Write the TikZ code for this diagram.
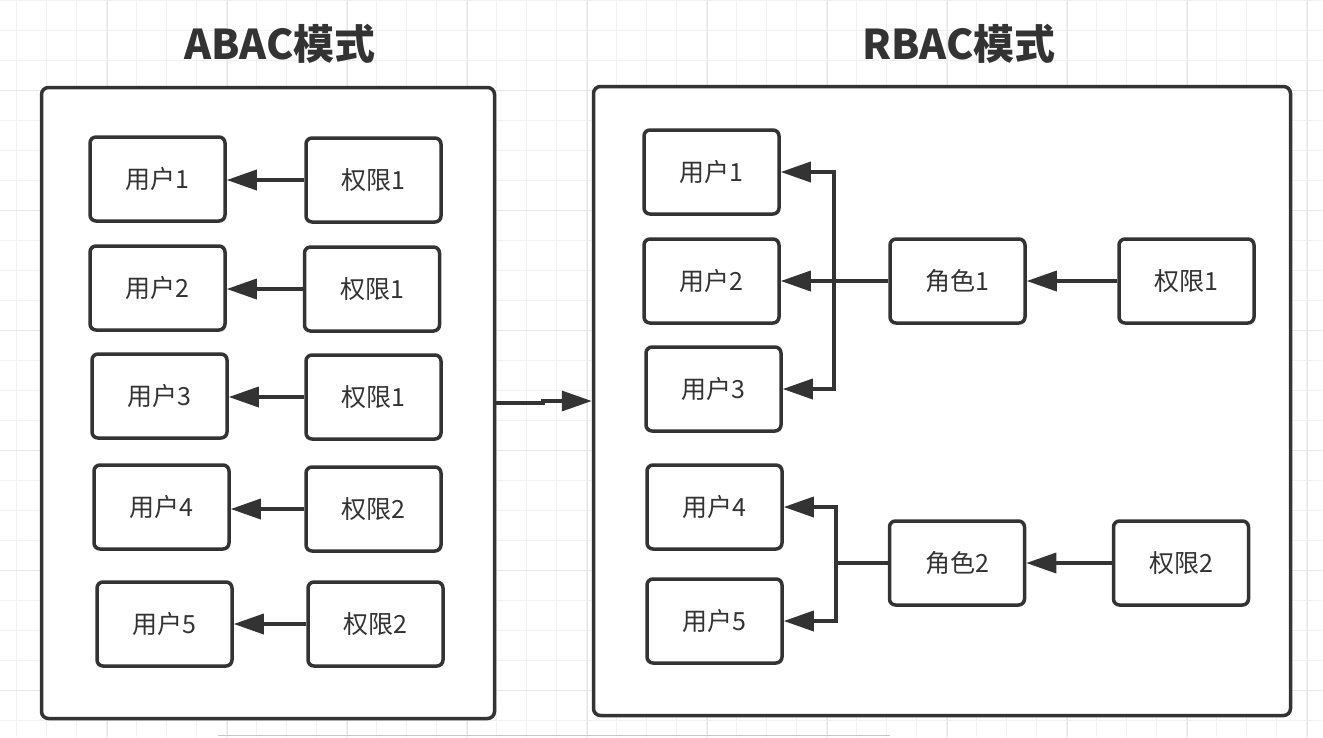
\documentclass[tikz,border=0pt]{standalone}
\usepackage{fontspec}
\setmainfont{Noto Sans CJK SC}
\newfontfamily\cjkfont{Noto Sans CJK SC}
\usetikzlibrary{arrows.meta}
\definecolor{ink}{HTML}{333333}
\definecolor{gridminor}{HTML}{F1F1F1}
\definecolor{gridmajor}{HTML}{E6E6E6}
\tikzset{
  box/.style={draw=ink, line width=3.5pt, rounded corners=6pt, fill=white,
    minimum width=135pt, minimum height=84pt, inner sep=0pt,
    text=ink, font=\cjkfont\fontsize{25}{25}\selectfont},
  frame/.style={draw=ink, line width=3.5pt, rounded corners=7pt, fill=white, inner sep=0pt},
  title/.style={text=ink, font=\cjkfont\bfseries\fontsize{41}{41}\selectfont, inner sep=0pt},
  arr/.style={draw=ink, line width=3.5pt, -{Triangle[length=30pt,width=20pt]}},
  wire/.style={draw=ink, line width=3.5pt}
}
\begin{document}
\begin{tikzpicture}[x=1pt,y=-1pt]
\useasboundingbox (0,0) rectangle (1323,737);
\fill[white] (0,0) rectangle (1323,737);
% background grid
\foreach \gx in {16,46,...,1316} {\draw[gridminor, line width=1pt] (\gx,0) -- (\gx,737);}
\foreach \gy in {0,30,...,730} {\draw[gridminor, line width=1pt] (0,\gy) -- (1323,\gy);}
\foreach \gx in {107,227,...,1316} {\draw[gridmajor, line width=1pt] (\gx,0) -- (\gx,737);}
\foreach \gy in {90,210,...,730} {\draw[gridmajor, line width=1pt] (0,\gy) -- (1323,\gy);}
\draw[black!22, line width=1.5pt] (218,735.5) -- (890,735.5);

% titles
\node[title] (tA) at (280,44) {ABAC模式};
\node[title] (tR) at (959,44) {RBAC模式};

% frames
\node[frame, minimum width=453pt, minimum height=631pt] (L) at (268,403) {};
\node[frame, minimum width=697pt, minimum height=629pt] (R) at (942,401) {};

% ABAC nodes
\node[box] (au1) at (157.5,179) {用户1};
\node[box] (au2) at (157.5,288) {用户2};
\node[box] (au3) at (159.5,396) {用户3};
\node[box] (au4) at (161.5,507) {用户4};
\node[box] (au5) at (164.5,624) {用户5};
\node[box] (ap1) at (373.5,180) {权限1};
\node[box] (ap2) at (372,289) {权限1};
\node[box] (ap3) at (373.5,397) {权限1};
\node[box] (ap4) at (373.5,509) {权限2};
\node[box] (ap5) at (375.5,624) {权限2};
\draw[arr] (ap1.west) -- (ap1.west -| au1.east);
\draw[arr] (ap2.west) -- (ap2.west -| au2.east);
\draw[arr] (ap3.west) -- (ap3.west -| au3.east);
\draw[arr] (ap4.west) -- (ap4.west -| au4.east);
\draw[arr] (ap5.west) -- (ap5.west -| au5.east);

% ABAC -> RBAC
\coordinate (mj) at (543,403);
\draw[arr] (L.east) -- (mj) |- (R.west);

% RBAC nodes
\node[box] (ru1) at (711.5,172) {用户1};
\node[box] (ru2) at (711.5,281) {用户2};
\node[box] (ru3) at (713.5,389) {用户3};
\node[box] (ru4) at (714.5,507) {用户4};
\node[box] (ru5) at (714.5,621) {用户5};
\node[box] (rr1) at (957.5,281) {角色1};
\node[box] (rp1) at (1186.5,281) {权限1};
\node[box] (rr2) at (957,563) {角色2};
\node[box] (rp2) at (1181,563) {权限2};

\draw[arr] (rp1.west) -- (rr1.east);
\draw[arr] (rp2.west) -- (rr2.east);

\coordinate (bus1) at (834,281);
\draw[wire] (rr1.west) -- (bus1);
\draw[arr] (bus1) |- (ru1.east);
\draw[arr] (bus1) -- (ru2.east);
\draw[arr] (bus1) |- (ru3.east);

\coordinate (bus2) at (836,563);
\draw[wire] (rr2.west) -- (bus2);
\draw[arr] (bus2) |- (ru4.east);
\draw[arr] (bus2) |- (ru5.east);
\end{tikzpicture}
\end{document}
